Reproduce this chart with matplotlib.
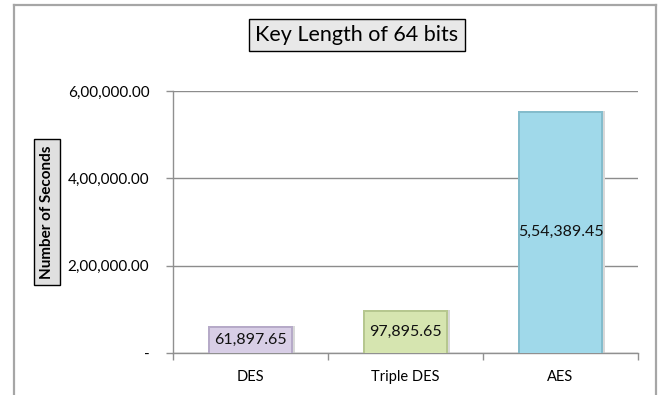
import matplotlib
matplotlib.use("Agg")
import matplotlib.pyplot as plt
from matplotlib.lines import Line2D

categories = ["DES", "Triple DES", "AES"]
seconds = [61897.65, 97895.65, 554389.45]
bar_faces = ["#d8cee6", "#d6e5b0", "#a0d9ea"]
bar_edges = ["#b6aac8", "#b6c78f", "#84bccc"]
y_ticks = [0, 200000, 400000, 600000]

FONT = ["Lato", "DejaVu Sans"]


def indian_format(v):
    """Format a number with Indian digit grouping and two decimals."""
    whole, frac = f"{v:.2f}".split(".")
    if len(whole) > 3:
        head, tail = whole[:-3], whole[-3:]
        groups = []
        while len(head) > 2:
            groups.insert(0, head[-2:])
            head = head[:-2]
        if head:
            groups.insert(0, head)
        whole = ",".join(groups + [tail])
    return f"{whole}.{frac}"


fig = plt.figure(figsize=(6.6, 3.95), dpi=100)

# outer chart frame (left, top and right edges)
frame_col = "#a6a6a6"
x0, x1, ytop = 14 / 660, 656 / 660, 1 - 5 / 395
fig.add_artist(Line2D([x0, x0], [-0.01, ytop], color=frame_col, lw=1.6, transform=fig.transFigure))
fig.add_artist(Line2D([x1, x1], [-0.01, ytop], color=frame_col, lw=1.6, transform=fig.transFigure))
fig.add_artist(Line2D([x0, x1], [ytop, ytop], color=frame_col, lw=1.6, transform=fig.transFigure))

ax = fig.add_axes([173 / 660, 1 - 353 / 395, 465 / 660, 262 / 395])
ax.set_xlim(-0.5, 2.5)
ax.set_ylim(0, 600000)

xs = range(len(categories))
width = 0.55
inset_x = 0.013      # bevel width in category units
inset_y = 4000       # bevel height in data units
for x, v, fc, ec in zip(xs, seconds, bar_faces, bar_edges):
    # soft drop shadow
    ax.bar(x + 0.014, v, width=width, color="#d8d8d8", zorder=2, linewidth=0)
    # slightly darker bevelled rim, lighter face inset
    ax.bar(x, v, width=width, color=ec, linewidth=0, zorder=3)
    ax.bar(x, v - inset_y, width=width - 2 * inset_x, color=fc, linewidth=0, zorder=4)
    ax.text(x, v / 2, indian_format(v), ha="center", va="center", fontsize=11.5,
            family=FONT, color="#111111", zorder=5)

ax.set_yticks(y_ticks)
ax.set_yticklabels(["-" if t == 0 else indian_format(t) for t in y_ticks], family=FONT, fontsize=11)
ax.set_xticks(list(xs))
ax.set_xticklabels(categories, family=FONT, fontsize=10.5)
ax.set_xticks([-0.5, 0.5, 1.5, 2.5], minor=True)
ax.tick_params(axis="x", which="major", length=0, pad=12)
ax.tick_params(axis="x", which="minor", length=5, color="#909090", width=1)
ax.tick_params(axis="y", length=5, color="#909090", width=1, pad=12)

ax.grid(axis="y", color="#8c8c8c", lw=1.0, zorder=1)
for side in ["top", "right"]:
    ax.spines[side].set_visible(False)
for side in ["left", "bottom"]:
    ax.spines[side].set_color("#909090")
    ax.spines[side].set_linewidth(1.0)

# boxed title
fig.text(357 / 660, 1 - 35 / 395, "Key Length of 64 bits", ha="center", va="center",
         fontsize=15.5, family=FONT, color="black",
         bbox=dict(boxstyle="square,pad=0.3", facecolor="#e8e8e8", edgecolor="black", lw=1.0))

# boxed axis label
fig.text(47 / 660, 1 - 212 / 395, "Number of Seconds", ha="center", va="center", rotation=90,
         fontsize=11, family=FONT, fontweight="bold", color="black",
         bbox=dict(boxstyle="square,pad=0.4", facecolor="#e0e0e0", edgecolor="black", lw=1.0))

fig.savefig("out.png", dpi=100)
